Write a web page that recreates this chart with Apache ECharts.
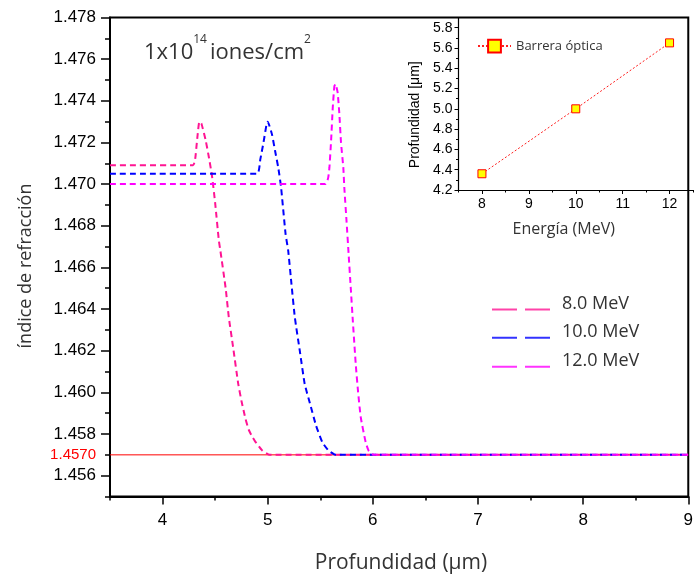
<!DOCTYPE html>
<html>
<head>
<meta charset="utf-8">
<script src="https://cdn.jsdelivr.net/npm/echarts@6/dist/echarts.min.js"></script>
<style>
  html, body { margin: 0; padding: 0; background: #fff; }
  #chart { width: 696px; height: 578px; }
</style>
</head>
<body>
<div id="chart"></div>
<script>
// Refractive-index profiles vs depth for three implantation energies
const seriesNames = ['8.0 MeV', '10.0 MeV', '12.0 MeV'];
const seriesColors = ['#FF1493', '#0000FF', '#FF00FF'];

const depth8 = [3.5, 4.29, 4.31, 4.33, 4.35, 4.37, 4.41, 4.44, 4.47, 4.50, 4.535, 4.55, 4.60, 4.63, 4.67, 4.72, 4.75, 4.79, 4.82, 4.85, 4.88, 4.95, 5.02, 9.0];
const index8 = [1.4709, 1.4709, 1.4712, 1.4722, 1.4730, 1.4729, 1.4721, 1.4713, 1.4704, 1.4691, 1.4673, 1.4668, 1.4650, 1.4636, 1.4622, 1.4604, 1.4596, 1.4587, 1.4582, 1.4579, 1.45765, 1.4572, 1.4570, 1.4570];

const depth10 = [3.5, 4.90, 4.93, 4.96, 4.99, 5.00, 5.04, 5.07, 5.10, 5.126, 5.17, 5.195, 5.226, 5.258, 5.305, 5.352, 5.40, 5.46, 5.52, 5.58, 5.65, 9.0];
const index10 = [1.4705, 1.4705, 1.4712, 1.4720, 1.4729, 1.4730, 1.4724, 1.4716, 1.4708, 1.4699, 1.4676, 1.4668, 1.4652, 1.4636, 1.4620, 1.4604, 1.4595, 1.4584, 1.4576, 1.4572, 1.4570, 1.4570];

const depth12 = [3.5, 5.55, 5.575, 5.587, 5.603, 5.619, 5.634, 5.645, 5.665, 5.681, 5.697, 5.719, 5.729, 5.75, 5.77, 5.79, 5.81, 5.838, 5.86, 5.885, 5.932, 5.96, 6.01, 9.0];
const index12 = [1.4700, 1.4700, 1.4703, 1.4708, 1.4721, 1.4737, 1.4747, 1.4748, 1.4744, 1.4734, 1.4720, 1.4708, 1.4698, 1.4682, 1.4666, 1.4650, 1.4634, 1.4613, 1.4600, 1.4588, 1.4576, 1.4572, 1.4570, 1.4570];

// Substrate reference index
const substrateDepth = [3.5, 7.0];
const substrateIndex = [1.4570, 1.4570];
const substrateLabel = '1.4570';

// Main axes ticks
const xMajorTicks = ['4', '5', '6', '7', '8', '9'];
const xMinorTicks = ['3.5', '4.5', '5.5', '6.5', '7.5', '8.5'];
const yMajorTicks = ['1.456', '1.458', '1.460', '1.462', '1.464', '1.466', '1.468', '1.470', '1.472', '1.474', '1.476', '1.478'];
const yMinorTicks = ['1.455', '1.457', '1.459', '1.461', '1.463', '1.465', '1.467', '1.469', '1.471', '1.473', '1.475', '1.477'];

// Inset: barrier depth vs energy
const insetName = 'Barrera óptica';
const insetEnergy = [8, 10, 12];
const insetDepth = [4.36, 5.00, 5.65];
const insetXMajor = ['8', '9', '10', '11', '12'];
const insetXMinor = ['7.5', '8.5', '9.5', '10.5', '11.5', '12.5'];
const insetYMajor = ['4.2', '4.4', '4.6', '4.8', '5.0', '5.2', '5.4', '5.6', '5.8'];
const insetYMinor = ['4.3', '4.5', '4.7', '4.9', '5.1', '5.3', '5.5', '5.7', '5.9'];

const num = a => a.map(Number);
const pairs = (xs, ys) => xs.map((x, i) => [x, ys[i]]);

const ARIAL = 'Liberation Sans, Arial, sans-serif';
const HUMAN = 'Open Sans, Lato, sans-serif';
const TEXT_GREY = '#333';

const chart = echarts.init(document.getElementById('chart'), null, { renderer: 'canvas' });

function majorAxis(extra) {
  return Object.assign({
    type: 'value',
    axisLine: { show: true, onZero: false, lineStyle: { color: '#000', width: 2 } },
    splitLine: { show: false },
  }, extra);
}
function minorAxis(extra) {
  return Object.assign({
    type: 'value',
    axisLine: { show: false, onZero: false },
    axisLabel: { show: false },
    splitLine: { show: false },
  }, extra);
}

const curveSeries = [[depth8, index8], [depth10, index10], [depth12, index12]].map((d, i) => ({
  name: seriesNames[i],
  type: 'line',
  xAxisIndex: 0, yAxisIndex: 0,
  data: pairs(d[0], d[1]),
  symbol: 'none',
  smooth: 0.15,
  color: seriesColors[i],
  lineStyle: { color: seriesColors[i], width: 2, type: [6, 4] },
  z: 3 + i,
}));

// Legend key: two long dashes, text lifted above the key line
const dashIcon = 'path://M0,0H25V2H0Z M33,0H58V2H33Z';
const legendBase = (name, top) => ({
  data: [{ name: name, icon: dashIcon }],
  left: 492, top: top,
  padding: 0,
  itemWidth: 58, itemHeight: 2,
  itemStyle: { borderWidth: 0, opacity: 0.8 },
  formatter: '{t|{name}}',
  textStyle: {
    fontFamily: HUMAN, fontSize: 18, color: TEXT_GREY,
    rich: { t: { fontFamily: HUMAN, fontSize: 18, color: TEXT_GREY, padding: [0, 0, 12, 7] } },
  },
  selectedMode: false,
});

chart.setOption({
  animation: false,
  backgroundColor: '#fff',
  grid: [
    { left: 110, top: 17.5, right: 3, bottom: 81.5, show: true, borderColor: '#000', borderWidth: 2, backgroundColor: 'transparent' },
    { left: 458.5, top: 17.5, right: 3, bottom: 388, show: false },
  ],
  xAxis: [
    majorAxis({
      gridIndex: 0, min: 3.5, max: 9, position: 'bottom',
      axisTick: { show: true, length: 8, customValues: num(xMajorTicks), lineStyle: { color: '#000', width: 1.5 } },
      axisLabel: { customValues: num(xMajorTicks), color: '#000', fontFamily: ARIAL, fontSize: 17, margin: 15, formatter: v => String(v) },
    }),
    minorAxis({
      gridIndex: 0, min: 3.5, max: 9, position: 'bottom',
      axisTick: { show: true, length: 4, customValues: num(xMinorTicks), lineStyle: { color: '#000', width: 1.5 } },
    }),
    majorAxis({
      gridIndex: 1, min: 7.5, max: 12.5, position: 'bottom',
      axisLine: { show: true, onZero: false, lineStyle: { color: '#000', width: 1.2 } },
      axisTick: { show: true, length: 4, customValues: num(insetXMajor), lineStyle: { color: '#000', width: 1 } },
      axisLabel: { customValues: num(insetXMajor), color: '#000', fontFamily: ARIAL, fontSize: 14, margin: 7, formatter: v => String(v) },
      name: 'Energía (MeV)', nameLocation: 'middle', nameGap: 31,
      nameTextStyle: { fontFamily: HUMAN, fontSize: 16, color: TEXT_GREY, padding: [0, 24, 0, 0] },
    }),
    minorAxis({
      gridIndex: 1, min: 7.5, max: 12.5, position: 'bottom',
      axisTick: { show: true, length: 2.5, customValues: num(insetXMinor), lineStyle: { color: '#000', width: 1 } },
    }),
  ],
  yAxis: [
    majorAxis({
      gridIndex: 0, min: 1.455, max: 1.478, position: 'left',
      axisTick: { show: true, length: 9, customValues: num(yMajorTicks), lineStyle: { color: '#000', width: 1.5 } },
      axisLabel: { customValues: num(yMajorTicks), color: '#000', fontFamily: ARIAL, fontSize: 17, margin: 14, formatter: v => v.toFixed(3) },
    }),
    minorAxis({
      gridIndex: 0, min: 1.455, max: 1.478, position: 'left',
      axisTick: { show: true, length: 5, customValues: num(yMinorTicks), lineStyle: { color: '#000', width: 1.5 } },
    }),
    majorAxis({
      gridIndex: 1, min: 4.2, max: 5.9, position: 'left',
      axisLine: { show: true, onZero: false, lineStyle: { color: '#000', width: 1.2 } },
      axisTick: { show: true, length: 4, customValues: num(insetYMajor), lineStyle: { color: '#000', width: 1 } },
      axisLabel: { customValues: num(insetYMajor), color: '#000', fontFamily: ARIAL, fontSize: 14, margin: 6, formatter: v => v.toFixed(1) },
      name: 'Profundidad [μm]', nameLocation: 'middle', nameGap: 36, nameRotate: 90,
      nameTextStyle: { fontFamily: ARIAL, fontSize: 14, color: '#000', padding: [0, 22, 0, 0] },
    }),
    minorAxis({
      gridIndex: 1, min: 4.2, max: 5.9, position: 'left',
      axisTick: { show: true, length: 2.5, customValues: num(insetYMinor), lineStyle: { color: '#000', width: 1 } },
    }),
  ],
  legend: [
    legendBase(seriesNames[0], 294.5),
    legendBase(seriesNames[1], 322.8),
    legendBase(seriesNames[2], 351.8),
    {
      data: [insetName], left: 477, top: 38.7, padding: 0,
      itemWidth: 33, itemHeight: 16, itemGap: 4, selectedMode: false,
      textStyle: { fontFamily: HUMAN, fontSize: 13, color: TEXT_GREY },
    },
  ],
  series: [
    {
      name: 'substrate',
      type: 'line',
      xAxisIndex: 0, yAxisIndex: 0,
      data: pairs(substrateDepth, substrateIndex).map((p, i) => i === 0 ? {
        value: p,
        label: { show: true, position: 'left', distance: 14, formatter: substrateLabel, color: '#FF0000', fontFamily: ARIAL, fontSize: 15 },
      } : { value: p }),
      symbol: 'circle', symbolSize: 0.01, showSymbol: true,
      lineStyle: { color: '#FF0000', width: 1, type: 'solid' },
      itemStyle: { color: '#FF0000' },
      z: 2,
    },
    ...curveSeries,
    {
      name: insetName,
      type: 'line',
      xAxisIndex: 2, yAxisIndex: 2,
      data: pairs(insetEnergy, insetDepth),
      symbol: 'rect', symbolSize: 8,
      lineStyle: { color: '#FF2020', width: 1, type: [2, 2] },
      itemStyle: { color: '#FFFF00', borderColor: '#FF0000', borderWidth: 1 },
      z: 5,
    },
  ],
  graphic: [
    {
      type: 'text', x: 26, y: 266, rotation: Math.PI / 2,
      style: { text: 'índice de refracción', fontFamily: HUMAN, fontSize: 18, fill: TEXT_GREY, align: 'center', verticalAlign: 'middle' },
    },
    {
      type: 'text', x: 144, y: 34,
      style: {
        text: '{n|1x10}{s|14}{n|iones/cm}{s|2}',
        rich: {
          n: { fontFamily: HUMAN, fontSize: 22, fill: TEXT_GREY, lineHeight: 30, verticalAlign: 'bottom' },
          s: { fontFamily: HUMAN, fontSize: 12, fill: TEXT_GREY, lineHeight: 20, verticalAlign: 'top', padding: [0, 3, 0, 0] },
        },
      },
    },
    {
      type: 'text', x: 401, y: 563,
      style: { text: 'Profundidad (μm)', fontFamily: HUMAN, fontSize: 21, fill: TEXT_GREY, align: 'center', verticalAlign: 'middle' },
    },
  ],
});
</script>
</body>
</html>
